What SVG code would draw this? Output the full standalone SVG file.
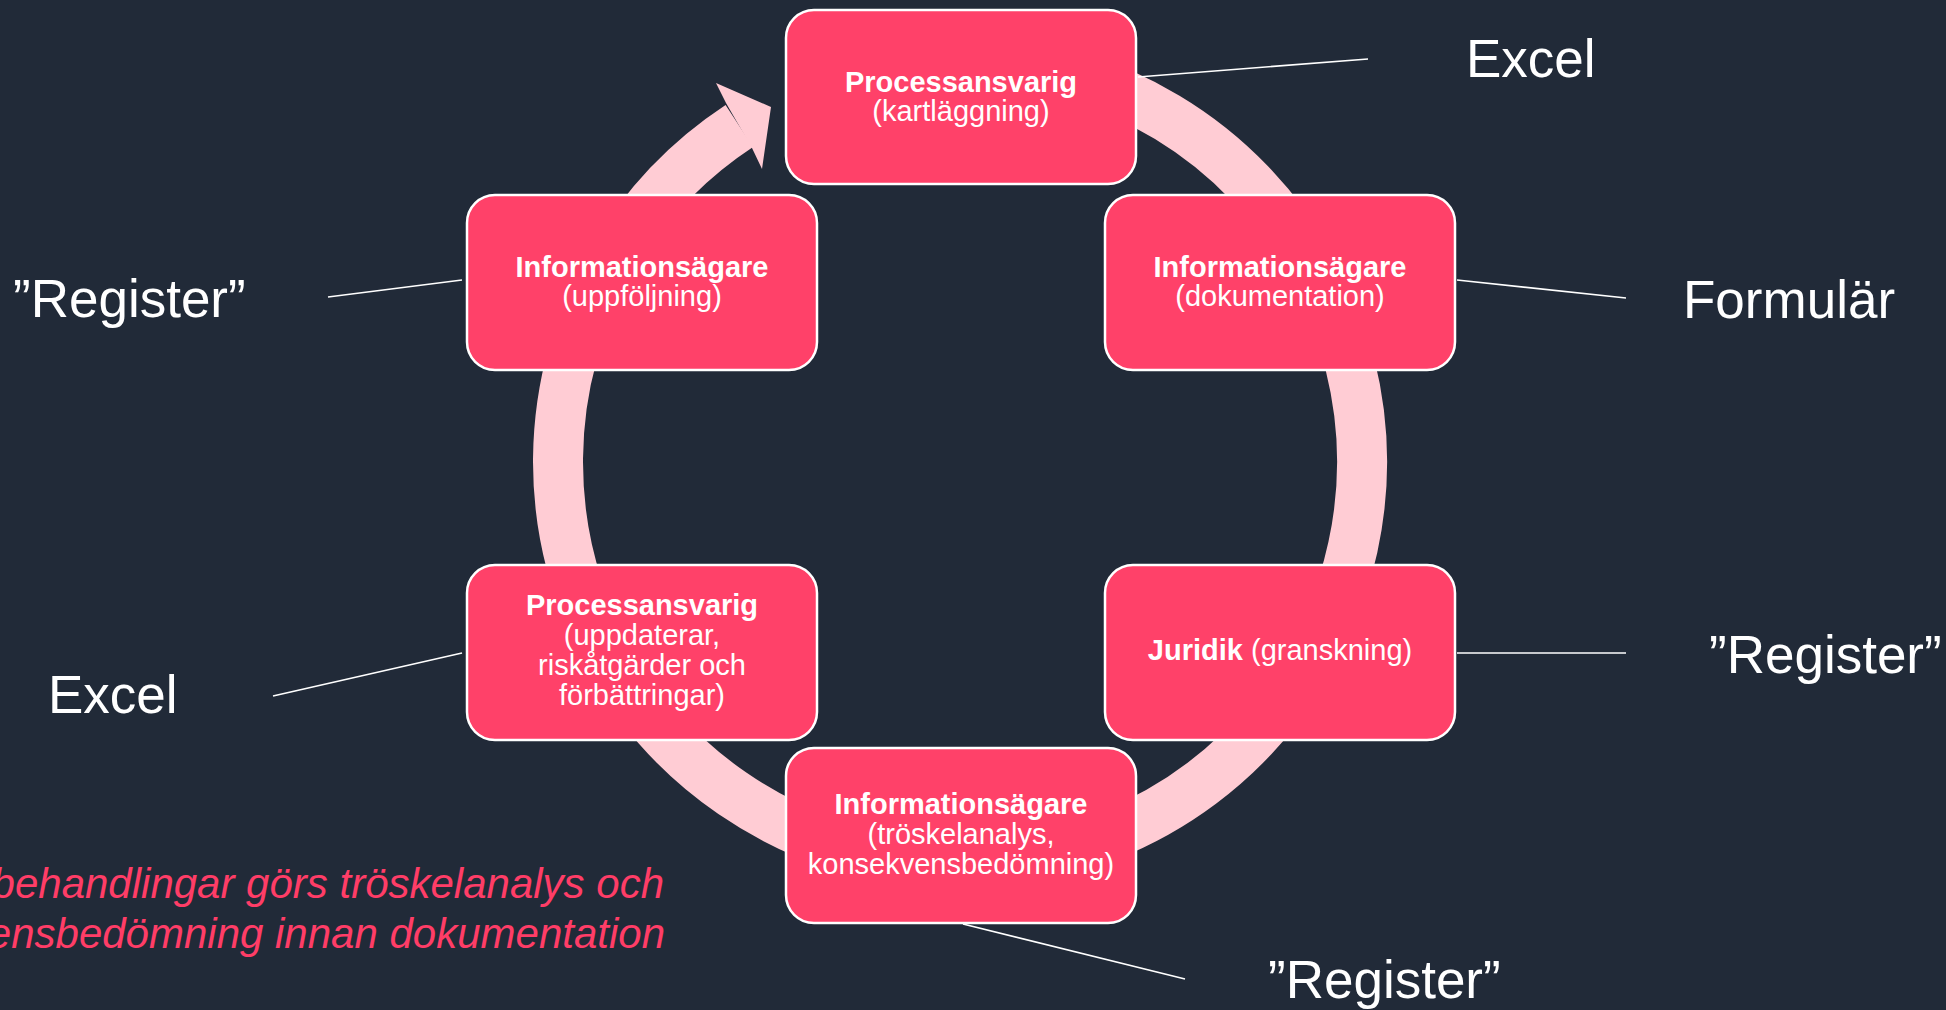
<svg xmlns="http://www.w3.org/2000/svg" width="1946" height="1010" viewBox="0 0 1946 1010">
<style>
.bg{fill:#212A38}
.box{fill:#FF4169;stroke:#FFFFFF;stroke-width:2.5}
.nt{font-family:"Liberation Sans",Arial,sans-serif;font-size:29px;fill:#FFFFFF;text-anchor:middle}
.b{font-weight:bold}
.ring{fill:none;stroke:#FFCCD4;stroke-width:50}
.head{fill:#FFCCD4}
.lead{stroke:#FFFFFF;stroke-width:1.6;fill:none}
.lbl{font-family:"Liberation Sans",Arial,sans-serif;font-size:53px;fill:#FFFFFF}
.note{font-family:"Liberation Sans",Arial,sans-serif;font-size:42px;font-style:italic;fill:#FF3D67;text-anchor:end}
</style>
<rect class="bg" x="0" y="0" width="1946" height="1010"/>
<g id="connectors">
<path class="ring" d="M 890.2 66.1 A 402 402 0 1 1 739.3 126.0"/>
<polygon class="head" points="726,103 716,83 771,107 762,169 752,148"/>
<line class="lead" x1="1138" y1="77" x2="1368" y2="59"/>
<line class="lead" x1="1457" y1="280" x2="1626" y2="298"/>
<line class="lead" x1="1457" y1="653" x2="1626" y2="653"/>
<line class="lead" x1="963" y1="924" x2="1185" y2="979"/>
<line class="lead" x1="462" y1="653" x2="273" y2="696"/>
<line class="lead" x1="462" y1="280" x2="328" y2="297"/>
</g>
<g id="node-kartlaggning">
<rect class="box" x="786" y="10" width="350" height="174" rx="28"/>
<text class="nt" x="961" y="92"><tspan class="b">Processansvarig</tspan><tspan x="961" dy="29">(kartläggning)</tspan></text>
</g>
<g id="node-dokumentation">
<rect class="box" x="1105" y="195" width="350" height="175" rx="28"/>
<text class="nt" x="1280" y="277"><tspan class="b">Informationsägare</tspan><tspan x="1280" dy="29">(dokumentation)</tspan></text>
</g>
<g id="node-granskning">
<rect class="box" x="1105" y="565" width="350" height="175" rx="28"/>
<text class="nt" x="1280" y="660"><tspan class="b">Juridik</tspan> (granskning)</text>
</g>
<g id="node-troskelanalys">
<rect class="box" x="786" y="748" width="350" height="175" rx="28"/>
<text class="nt" x="961" y="814"><tspan class="b">Informationsägare</tspan><tspan x="961" dy="30">(tröskelanalys,</tspan><tspan x="961" dy="30">konsekvensbedömning)</tspan></text>
</g>
<g id="node-uppdaterar">
<rect class="box" x="467" y="565" width="350" height="175" rx="28"/>
<text class="nt" x="642" y="615"><tspan class="b">Processansvarig</tspan><tspan x="642" dy="30">(uppdaterar,</tspan><tspan x="642" dy="30">riskåtgärder och</tspan><tspan x="642" dy="30">förbättringar)</tspan></text>
</g>
<g id="node-uppfoljning">
<rect class="box" x="467" y="195" width="350" height="175" rx="28"/>
<text class="nt" x="642" y="277"><tspan class="b">Informationsägare</tspan><tspan x="642" dy="29">(uppföljning)</tspan></text>
</g>
<g id="labels">
<text class="lbl" x="1466" y="77">Excel</text>
<text class="lbl" x="1683" y="318">Formulär</text>
<text class="lbl" x="1709" y="673">”Register”</text>
<text class="lbl" x="1268" y="998">”Register”</text>
<text class="lbl" x="13" y="317">”Register”</text>
<text class="lbl" x="48" y="713">Excel</text>
</g>
<g id="note">
<text class="note" x="664" y="898">behandlingar görs tröskelanalys och</text>
<text class="note" x="665" y="948">konsekvensbedömning innan dokumentation</text>
</g>
</svg>
